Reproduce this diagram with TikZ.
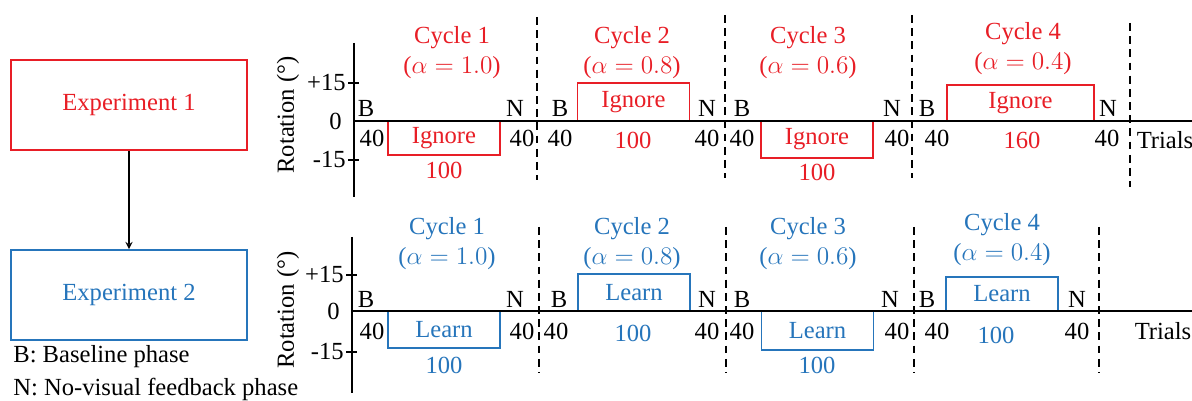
\documentclass[tikz,border=0pt]{standalone}
\usepackage{fontspec}
\setmainfont{Liberation Serif}
\definecolor{expred}{RGB}{232,30,38}
\definecolor{expblue}{RGB}{38,117,187}
\begin{document}
\begin{tikzpicture}[x=0.02cm, y=-0.02cm, >=stealth,
  every node/.style={font=\fontsize{14}{17}\selectfont, inner sep=0pt},
  expbox/.style={draw, line width=1.1pt, minimum width=4.72cm, minimum height=1.8cm},
  phase/.style={draw, line width=1.1pt, minimum width=2.24cm},
  title/.style={align=center},
  axis/.style={line width=1.2pt},
  cut/.style={line width=1.2pt, dash pattern=on 4.5pt off 3pt}]
\useasboundingbox (0,0) rectangle (1192,401);

% left column
\node[expbox, draw=expred, text=expred] (e1) at (129,105) {Experiment 1};
\node[expbox, draw=expblue, text=expblue] (e2) at (129,295) {Experiment 2};
\draw[->, line width=0.8pt] (e1) -- (e2);
\node[anchor=west] (kb) at (13,357) {B: Baseline phase};
\node[anchor=west] (kn) at (13,389) {N: No-visual feedback phase};

% top panel
\node[phase, draw=expred, text=expred, minimum height=0.68cm] (ti1) at (444,138) {Ignore};
\node[phase, draw=expred, text=expred, minimum height=0.76cm] (ti2) at (633.5,102) {Ignore};
\node[phase, draw=expred, text=expred, minimum height=0.74cm] (ti3) at (817,139.5) {Ignore};
\node[phase, draw=expred, text=expred, minimum height=0.72cm, minimum width=2.94cm] (ti4) at (1020.5,103) {Ignore};
\draw[axis] (354,43) -- (354,197);
\draw[axis] (354,121) -- (1192,121);
\draw[axis] (348,83) -- (359,83);
\draw[axis] (348,160) -- (359,160);
\node[anchor=east] (tp15) at (346,83) {+15};
\node[anchor=east] (tz) at (342,121) {0};
\node[anchor=east] (tm15) at (346,160) {-15};
\node[rotate=90] (trot) at (288,115) {Rotation (°)};
\foreach \x/\ya/\yb in {537/17/180, 725/15/178, 912/15/178, 1130/23/187}
  \draw[cut] (\x,\ya) -- (\x,\yb);

\node[title, text=expred] (tc1) at (452,53) {Cycle 1\\($\alpha = 1.0$)};
\node[title, text=expred] (tc2) at (632,53) {Cycle 2\\($\alpha = 0.8$)};
\node[title, text=expred] (tc3) at (808,53) {Cycle 3\\($\alpha = 0.6$)};
\node[title, text=expred] (tc4) at (1023,49) {Cycle 4\\($\alpha = 0.4$)};
\node[text=expred] (tn1) at (444,170) {100};
\node[text=expred] (tn2) at (633,140) {100};
\node[text=expred] (tn3) at (817,172) {100};
\node[text=expred] (tn4) at (1022,140) {160};

\foreach \x [count=\i] in {366,560,742,927}
  \node (tb\i) at (\x,108) {B};
\foreach \x [count=\i] in {515,707,892,1108}
  \node (tnv\i) at (\x,108) {N};
\foreach \x [count=\i] in {372,522,560,707,742,897,937,1107}
  \node (tf\i) at (\x,138) {40};
\node (ttr) at (1165,140) {Trials};

% bottom panel
\node[phase, draw=expblue, text=expblue, minimum height=0.74cm] (bl1) at (444,329.5) {Learn};
\node[phase, draw=expblue, text=expblue, minimum height=0.74cm] (bl2) at (634,292.5) {Learn};
\node[phase, draw=expblue, text=expblue, minimum height=0.78cm] (bl3) at (817.5,330.5) {Learn};
\node[phase, draw=expblue, text=expblue, minimum height=0.68cm] (bl4) at (1002,294) {Learn};
\draw[axis] (352,237) -- (352,393);
\draw[axis] (352,311) -- (1192,311);
\draw[axis] (346,275) -- (357,275);
\draw[axis] (346,352) -- (357,352);
\node[anchor=east] (bp15) at (344,275) {+15};
\node[anchor=east] (bz) at (340,311) {0};
\node[anchor=east] (bm15) at (344,352) {-15};
\node[rotate=90] (brot) at (288,310) {Rotation (°)};
\foreach \x in {539,726,914,1099}
  \draw[cut] (\x,227) -- (\x,373);

\node[title, text=expblue] (bc1) at (447,244) {Cycle 1\\($\alpha = 1.0$)};
\node[title, text=expblue] (bc2) at (632,244) {Cycle 2\\($\alpha = 0.8$)};
\node[title, text=expblue] (bc3) at (808,244) {Cycle 3\\($\alpha = 0.6$)};
\node[title, text=expblue] (bc4) at (1002,240) {Cycle 4\\($\alpha = 0.4$)};
\node[text=expblue] (bn1) at (444,365) {100};
\node[text=expblue] (bn2) at (633,333) {100};
\node[text=expblue] (bn3) at (817,365) {100};
\node[text=expblue] (bn4) at (996,335) {100};

\foreach \x [count=\i] in {366,559,742,927}
  \node (bb\i) at (\x,299) {B};
\foreach \x [count=\i] in {515,707,890,1077}
  \node (bnv\i) at (\x,299) {N};
\foreach \x [count=\i] in {372,522,556,707,742,897,937,1077}
  \node (bf\i) at (\x,331) {40};
\node (btr) at (1163,331) {Trials};
\end{tikzpicture}
\end{document}
